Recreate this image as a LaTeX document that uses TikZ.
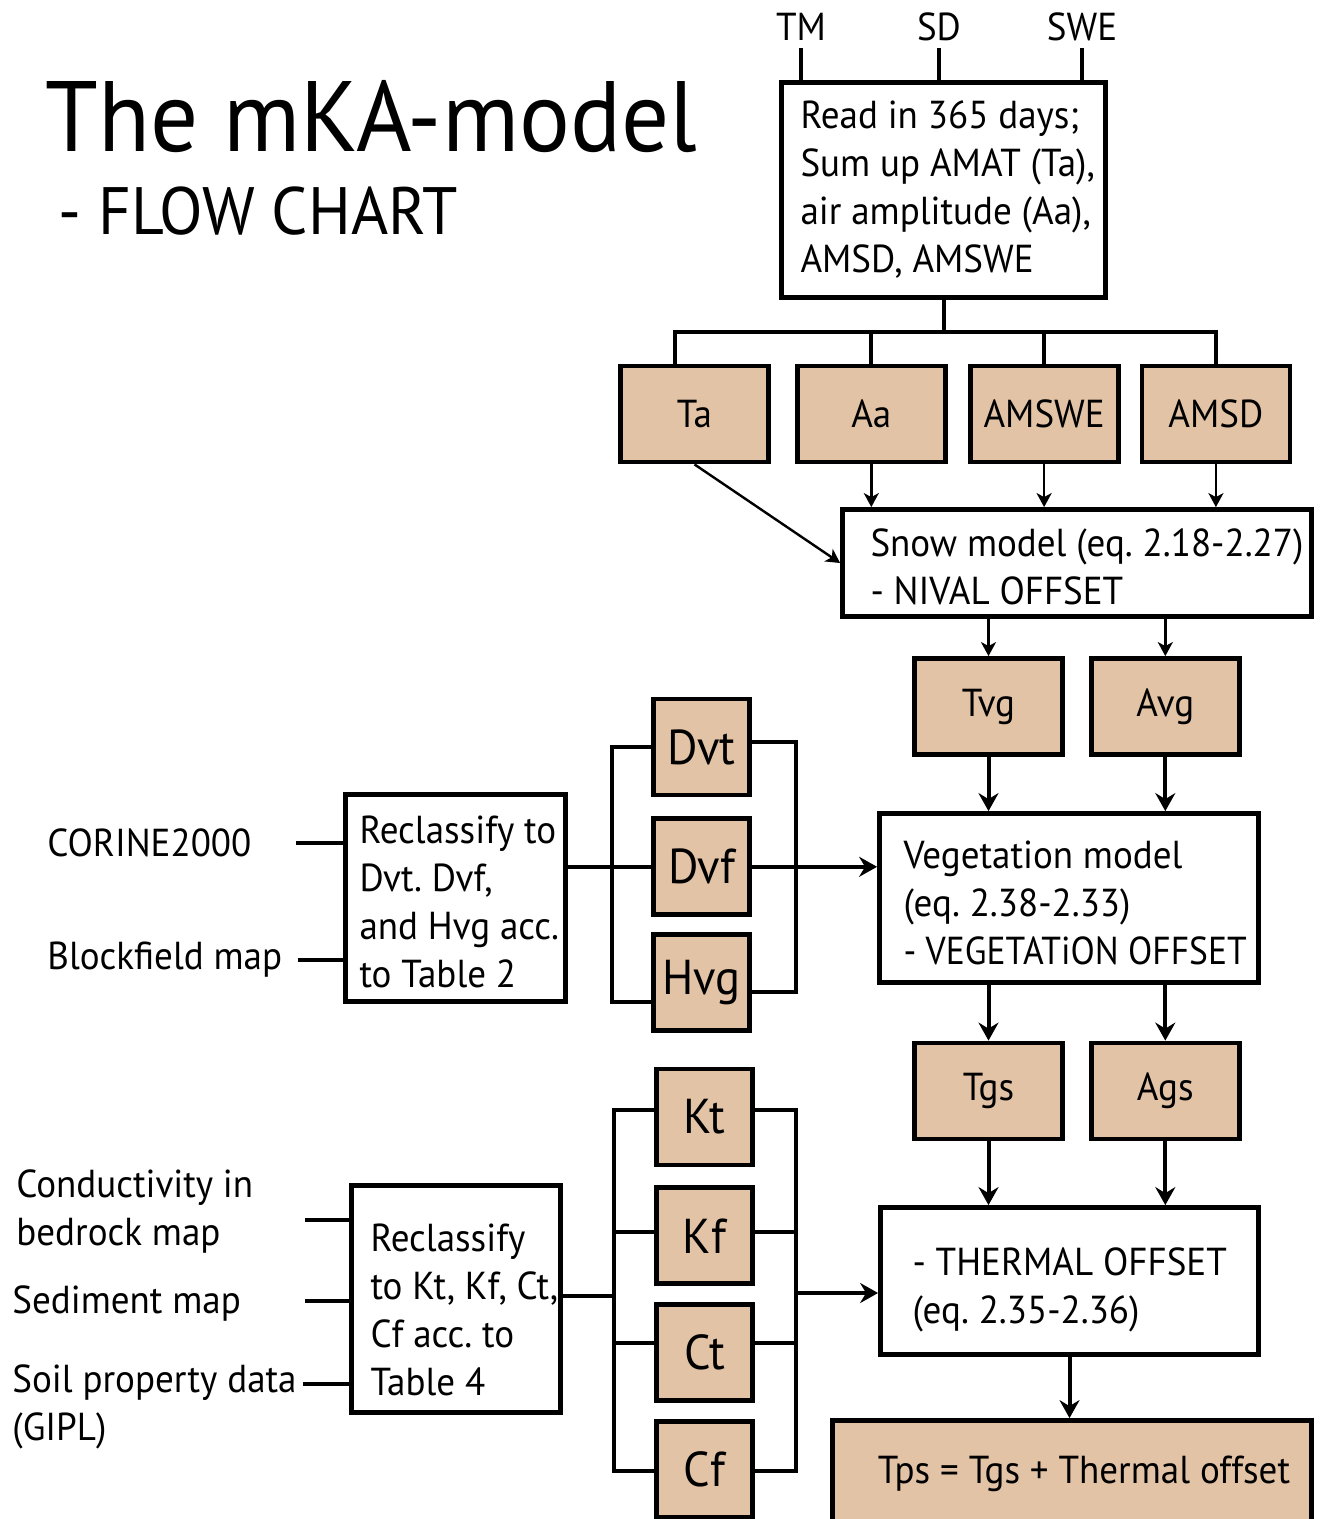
\documentclass[tikz,border=0pt]{standalone}
\usepackage{fontspec}
\setmainfont{PT Sans}[FakeStretch=0.95]
\usetikzlibrary{arrows.meta,positioning,calc}
\definecolor{MKAFill}{HTML}{E3C3A6}
\newcommand{\mkafont}{\fontsize{19.5}{24}\selectfont}
\newcommand{\mkabig}{\fontsize{24.5}{29}\selectfont}
\frenchspacing

\begin{document}
\begin{tikzpicture}[x=0.5pt,y=-0.5pt,
  block/.style={draw,line width=2.4pt,inner sep=0pt},
  param/.style={block,fill=MKAFill,minimum width=74pt,minimum height=48pt,font=\mkafont},
  coef/.style={block,fill=MKAFill,minimum width=48pt,minimum height=48pt,font=\mkabig},
  btext/.style={inner sep=0pt,align=left,anchor=west,font=\mkafont},
  conn/.style={line width=2pt},
  flow/.style={line width=2pt,-{Stealth[length=9pt,width=10pt,inset=3pt]}},
  thinflow/.style={line width=1.2pt,-{Stealth[length=7pt,width=7.5pt,inset=2pt]}},
]
\useasboundingbox (0,0) rectangle (1324,1519);

% title
\node[inner sep=0pt,anchor=west,font=\fontsize{50}{60}\selectfont] (title) at (45,117) {The mKA-model};
\node[inner sep=0pt,anchor=west,font=\fontsize{33.5}{40}\selectfont] (subtitle) at (58,211) {- FLOW CHART};

% climate input
\node[font=\mkafont] (tm) at (801,27) {TM};
\node[font=\mkafont] (sd) at (939,27) {SD};
\node[font=\mkafont] (swe) at (1082,27) {SWE};
\node[block,minimum width=162pt,minimum height=107.5pt] (read) at (943.5,190) {};
\node[btext] at ([xshift=10.5pt]read.west) {Read in 365 days;\\Sum up AMAT (Ta),\\air amplitude (Aa),\\AMSD, AMSWE};

\node[param] (ta) at (694.5,414) {Ta};
\node[param,right=12pt of ta] (aa) {Aa};
\node[param,right=10pt of aa] (amswe) {AMSWE};
\node[param,right=9.5pt of amswe] (amsd) {AMSD};

% snow, vegetation and thermal offsets
\node[block,minimum width=234.5pt,minimum height=53.5pt] (snow) at (1077,563) {};
\node[btext] at ([xshift=15pt,yshift=-2pt]snow.west) {Snow model (eq. 2.18-2.27)\\- NIVAL OFFSET};
\node[param] (tvg) at (988.5,706.5) {Tvg};
\node[param,right=12pt of tvg] (avg) {Avg};
\node[block,minimum width=189.5pt,minimum height=84.5pt] (veg) at (1069,898) {};
\node[btext] at ([xshift=13pt,yshift=-2.5pt]veg.west) {Vegetation model\\(eq. 2.38-2.33)\\{\addfontfeature{FakeStretch=0.91}- VEGETATiON OFFSET}};
\node[param] (tgs) at (988.5,1091) {Tgs};
\node[param,right=12pt of tgs] (ags) {Ags};
\node[block,minimum width=189pt,minimum height=73.5pt] (thermal) at (1069.5,1281) {};
\node[btext] at ([xshift=17pt,yshift=-4.5pt]thermal.west) {- THERMAL OFFSET\\(eq. 2.35-2.36)};
\node[param,minimum width=239.5pt,minimum height=53.5pt] (tps) at (1072,1474) {\hspace{12pt}Tps = Tgs + Thermal offset};

% vegetation maps
\node[block,minimum width=110pt,minimum height=103.5pt] (recveg) at (455.5,898) {};
\node[btext] at ([xshift=8pt,yshift=-2pt]recveg.west) {Reclassify to\\Dvt. Dvf,\\and Hvg acc.\\to Table 2};
\node[btext] (corine) at (47,843) {CORINE2000};
\node[btext] (blockfield) at (47,960) {Blockfield map};
\node[coef] (dvt) at (701.5,747) {Dvt};
\node[coef,below=9.5pt of dvt] (dvf) {Dvf};
\node[coef,below=7.5pt of dvf] (hvg) {Hvg};

% ground maps
\node[block,minimum width=104.5pt,minimum height=113.5pt] (recsoil) at (456,1299) {};
\node[btext] at ([xshift=10.5pt,yshift=-5.5pt]recsoil.west) {Reclassify\\to Kt, Kf, Ct,\\Cf acc. to\\Table 4};
\node[btext] (cond) at (16,1212) {Conductivity in\\bedrock map};
\node[btext] (sed) at (12,1304) {Sediment map};
\node[btext] (soil) at (12,1407) {Soil property data\\(GIPL)};
\node[coef] (kt) at (704.5,1117) {Kt};
\node[coef,below=9pt of kt] (kf) {Kf};
\node[coef,below=8pt of kf] (ct) {Ct};
\node[coef,below=8pt of ct] (cf) {Cf};

% connectors
\coordinate (splitrow) at (0,332);
\draw[conn] (tm.south) -- (tm.south |- read.north);
\draw[conn] (sd.south) -- (sd.south |- read.north);
\draw[conn] (swe.south) -- (swe.south |- read.north);
\draw[conn] (read.south) -- (read.south |- splitrow);
\draw[conn] ([xshift=-10pt]ta.north) |- (amsd.north |- splitrow) -- (amsd.north);
\draw[conn] (aa.north) -- (aa.north |- splitrow);
\draw[conn] (amswe.north) -- (amswe.north |- splitrow);

\draw[thinflow] (ta.south) -- (snow.west);
\draw[thinflow] (aa.south) -- (aa.south |- snow.north);
\draw[thinflow] (amswe.south) -- (amswe.south |- snow.north);
\draw[thinflow] (amsd.south) -- (amsd.south |- snow.north);
\draw[thinflow] (tvg.north |- snow.south) -- (tvg.north);
\draw[thinflow] (avg.north |- snow.south) -- (avg.north);
\draw[flow] (tvg.south) -- (tvg.south |- veg.north);
\draw[flow] (avg.south) -- (avg.south |- veg.north);
\draw[flow] (tgs.north |- veg.south) -- (tgs.north);
\draw[flow] (ags.north |- veg.south) -- (ags.north);
\draw[flow] (tgs.south) -- (tgs.south |- thermal.north);
\draw[flow] (ags.south) -- (ags.south |- thermal.north);
\draw[flow] (thermal.south) -- (thermal.south |- tps.north);

\draw[conn] (recveg.west |- corine) -- ++(-23.5pt,0);
\draw[conn] (recveg.west |- blockfield) -- ++(-22.5pt,0);
\draw[conn] (recveg.east |- dvf) -- (dvf.west);
\draw[conn] (dvt.west) -- ++(-19.5pt,0) |- ([yshift=-9.75pt]hvg.west);
\draw[conn] ([yshift=2.5pt]dvt.east) -- ++(22pt,0) |- ([yshift=-4.75pt]hvg.east);
\draw[flow] (dvf.east) -- (dvf.east -| veg.west);

\draw[conn] ([yshift=39.5pt]recsoil.west) -- ++(-22pt,0);
\draw[conn] ([yshift=-1pt]recsoil.west) -- ++(-22pt,0);
\draw[conn] ([yshift=-42.5pt]recsoil.west) -- ++(-23pt,0);
\draw[conn] ([yshift=1.5pt]recsoil.east) -- ++(25.5pt,0);
\draw[conn] ([yshift=3.5pt]kt.west) -- ++(-20pt,0) |- ([yshift=-1pt]cf.west);
\draw[conn] ([yshift=2pt]kf.west) -- ++(-20pt,0);
\draw[conn] ([yshift=5pt]ct.west) -- ++(-20pt,0);
\draw[conn] ([yshift=3.5pt]kt.east) -- ++(20.5pt,0) coordinate (soilbar) |- ([yshift=-1pt]cf.east);
\draw[conn] ([yshift=2pt]kf.east) -- ++(20.5pt,0);
\draw[conn] ([yshift=5pt]ct.east) -- ++(20.5pt,0);
\coordinate (thermalin) at ([yshift=-6pt]thermal.west);
\draw[flow] (soilbar |- thermalin) -- (thermalin);
\end{tikzpicture}
\end{document}
